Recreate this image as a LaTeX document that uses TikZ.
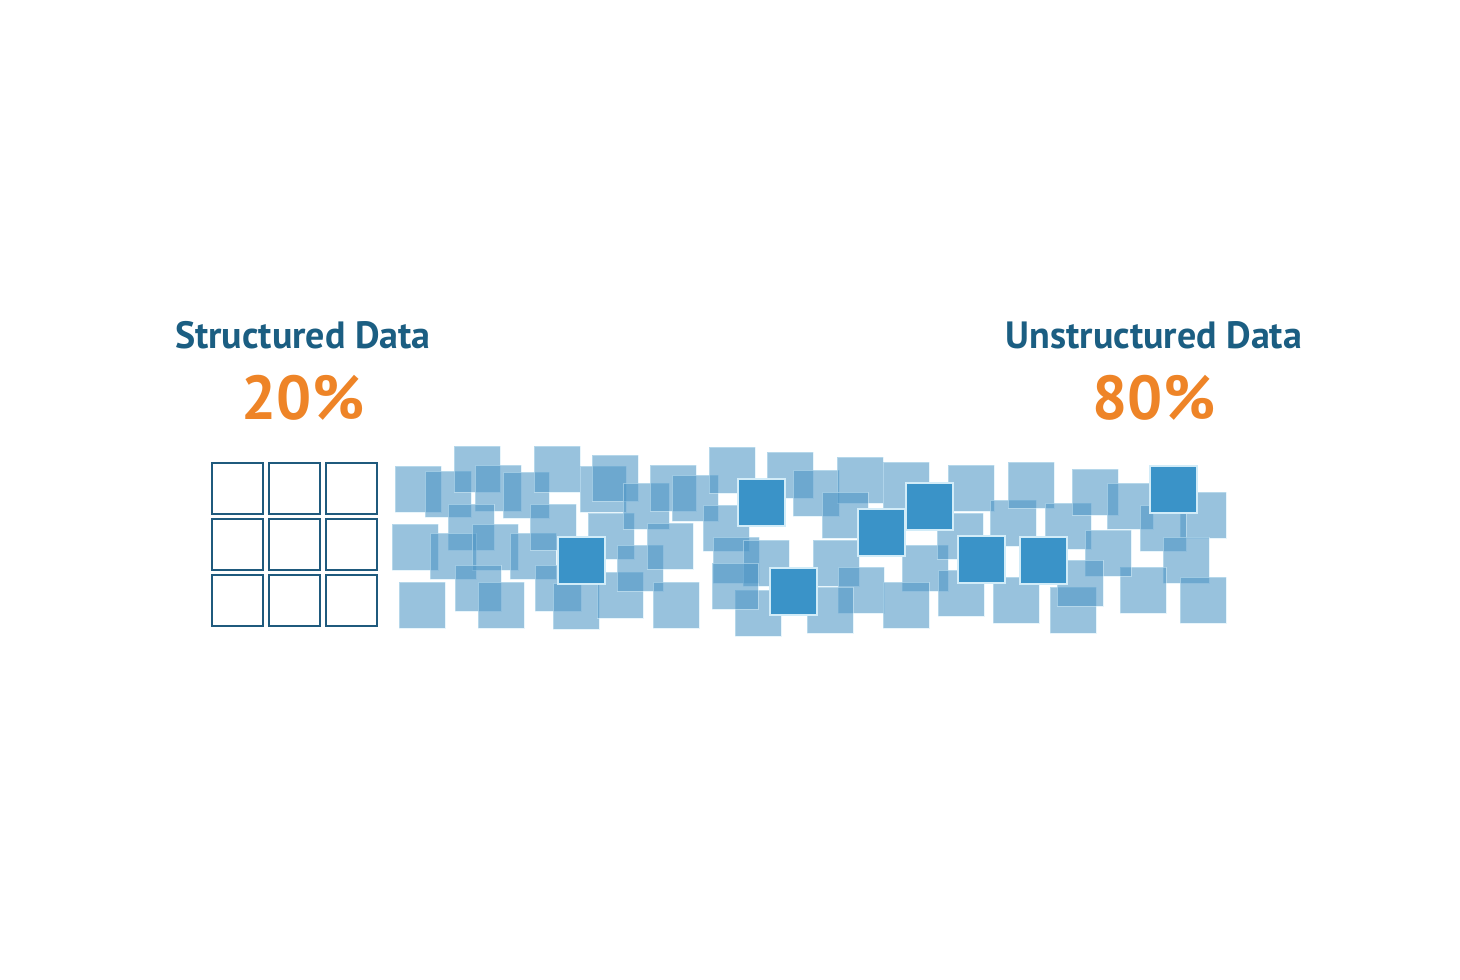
\documentclass[tikz,border=0pt]{standalone}
\usepackage{fontspec}
\setmainfont{PT Sans}
\definecolor{txtblue}{HTML}{1B5E82}
\definecolor{txtorange}{HTML}{EE8427}
\definecolor{gridblue}{HTML}{1F5A7D}
\definecolor{lightsq}{RGB}{78,150,198}
\definecolor{darksq}{HTML}{3A93C8}
\definecolor{edgesq}{HTML}{D2ECF8}
\tikzset{
  titletxt/.style={font=\bfseries\fontsize{19}{21}\selectfont, text=txtblue, inner sep=0pt, anchor=base},
  pcttxt/.style={font=\bfseries\fontsize{31}{34}\selectfont, text=txtorange, inner sep=0pt, anchor=base},
  gridcell/.style={draw=gridblue, line width=1.4pt},
  lightbox/.style={fill=lightsq, fill opacity=0.58, draw=edgesq, draw opacity=0.5, line width=0.4pt},
  darkbox/.style={fill=darksq, draw=edgesq, line width=0.9pt}
}
\newcommand{\lsq}[2]{\path[lightbox] (#1,#2) rectangle ++(46,46);}
\newcommand{\dsq}[2]{\path[darkbox] (#1,#2) rectangle ++(47,47);}
\begin{document}
\begin{tikzpicture}[x=0.5pt,y=-0.5pt]
\useasboundingbox[fill=white] (0,0) rectangle (1460,979);
% texts
\node[titletxt] (st) at (303,348) {Structured Data};
\node[pcttxt] (sp) at (303,419) {20\%};
\node[titletxt] (ut) at (1154,348) {Unstructured Data};
\node[pcttxt] (up) at (1154,419) {80\%};
% structured grid
\foreach \c in {0,1,2}{
  \foreach \r in {0,1,2}{
    \draw[gridcell] (212+57*\c,463+56*\r) rectangle ++(51,51);
  }
}
% unstructured scattered squares
\lsq{395}{466}\lsq{425}{471}\lsq{454}{446}\lsq{475}{465}\lsq{503}{472}
\lsq{534}{446}\lsq{448}{504}\lsq{392}{524}\lsq{430}{533}\lsq{472}{524}
\lsq{510}{533}\lsq{530}{504}\lsq{399}{582}\lsq{455}{565}\lsq{478}{582}
\lsq{535}{565}\lsq{553}{583}\lsq{580}{466}\lsq{592}{455}\lsq{588}{513}
\lsq{597}{572}\lsq{617}{545}\lsq{623}{483}\lsq{650}{465}\lsq{672}{475}
\lsq{647}{523}\lsq{653}{582}\lsq{709}{447}\lsq{703}{505}\lsq{767}{452}
\lsq{713}{537}\lsq{743}{540}\lsq{735}{590}\lsq{712}{563}\lsq{793}{470}
\lsq{837}{457}\lsq{883}{462}\lsq{822}{492}\lsq{813}{540}\lsq{838}{567}
\lsq{807}{587}\lsq{902}{545}\lsq{883}{582}\lsq{938}{570}\lsq{948}{465}
\lsq{937}{513}\lsq{993}{577}\lsq{990}{500}\lsq{1008}{462}\lsq{1045}{503}
\lsq{1072}{469}\lsq{1107}{483}\lsq{1180}{492}\lsq{1140}{505}\lsq{1163}{537}
\lsq{1180}{577}\lsq{1120}{567}\lsq{1085}{530}\lsq{1050}{587}\lsq{1057}{560}
% dark squares
\dsq{558}{537}\dsq{738}{479}\dsq{770}{568}\dsq{906}{483}
\dsq{858}{509}\dsq{958}{536}\dsq{1020}{537}\dsq{1150}{466}
\end{tikzpicture}
\end{document}
